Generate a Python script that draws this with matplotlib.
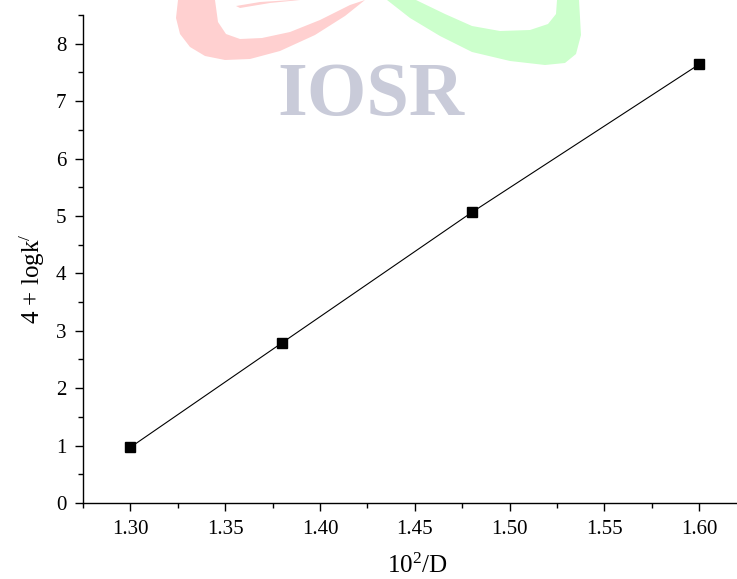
import matplotlib
matplotlib.use("Agg")
import matplotlib.pyplot as plt
from matplotlib.patches import Polygon
from matplotlib.ticker import MultipleLocator

# Data
x_vals = [1.30, 1.38, 1.48, 1.60]
y_vals = [0.97, 2.79, 5.06, 7.64]
x_ticks = [1.30, 1.35, 1.40, 1.45, 1.50, 1.55, 1.60]
y_ticks = [0, 1, 2, 3, 4, 5, 6, 7, 8]
x_label = r'$\mathregular{10^{2}/D}$'
y_label = r'4 + logk$^{\mathregular{/}}$'
watermark = "IOSR"

plt.rcParams['font.family'] = ['Liberation Serif', 'DejaVu Serif']
plt.rcParams['mathtext.fontset'] = 'custom'
plt.rcParams['mathtext.rm'] = 'Liberation Serif'
plt.rcParams['mathtext.it'] = 'Liberation Serif:italic'

W, H = 737, 579
fig = plt.figure(figsize=(W / 100, H / 100), dpi=100)

# watermark (figure pixel coords -> fraction)
def px(pts):
    return [(x / W, 1 - y / H) for x, y in pts]

red_pts = [(178, 0), (176, 18), (180, 34), (190, 47), (205, 56), (225, 60), (250, 59),
           (280, 51), (315, 35), (345, 16), (365, 0), (350, 5), (320, 20), (290, 32),
           (262, 38), (240, 39), (226, 34), (218, 22), (215, 0)]
red_top = [(236, 6), (260, 2), (292, 0), (300, 0), (270, 3), (240, 8)]
green_pts = [(387, 0), (410, 18), (440, 36), (472, 52), (510, 61), (545, 65), (565, 63),
             (576, 54), (581, 35), (579, 0), (557, 0), (556, 14), (548, 24), (530, 30),
             (500, 31), (472, 26), (445, 14), (416, 0)]
for pts, col in [(red_pts, '#ffd0d0'), (red_top, '#ffd0d0'), (green_pts, '#ccffcc')]:
    fig.patches.append(Polygon(px(pts), closed=True, transform=fig.transFigure,
                               facecolor=col, edgecolor='none', zorder=0))
fig.text(371 / W, 1 - 97 / H, watermark, ha='center', va='center', fontsize=55,
         fontweight='bold', color='#c9cbd9', zorder=0)

ax = fig.add_axes([83 / W, 1 - 503 / H, (W - 83) / W, (503 - 15) / H])
ax.patch.set_alpha(0)
ax.plot(x_vals, y_vals, color='black', lw=0.8, marker='s', markersize=7,
        markerfacecolor='black', markeredgecolor='black')

ax.set_xlim(1.275, 1.62)
ax.set_ylim(0, 8.5)
ax.set_xticks(x_ticks)
ax.set_xticklabels([f"{v:.2f}" for v in x_ticks])
ax.set_yticks(y_ticks)
ax.xaxis.set_minor_locator(MultipleLocator(0.025))
ax.yaxis.set_minor_locator(MultipleLocator(0.5))
ax.tick_params(which='major', direction='out', length=6, width=1, labelsize=15, pad=6)
ax.tick_params(which='minor', direction='out', length=3.5, width=1)
for s in ['top', 'right']:
    ax.spines[s].set_visible(False)
for s in ['left', 'bottom']:
    ax.spines[s].set_linewidth(1)

fig.text(32 / W, 1 - 279 / H, y_label, rotation=90, ha='center', va='center', fontsize=18)
fig.text(417 / W, 1 - 566 / H, x_label, ha='center', va='center', fontsize=18)

fig.savefig("out.png", dpi=100)
